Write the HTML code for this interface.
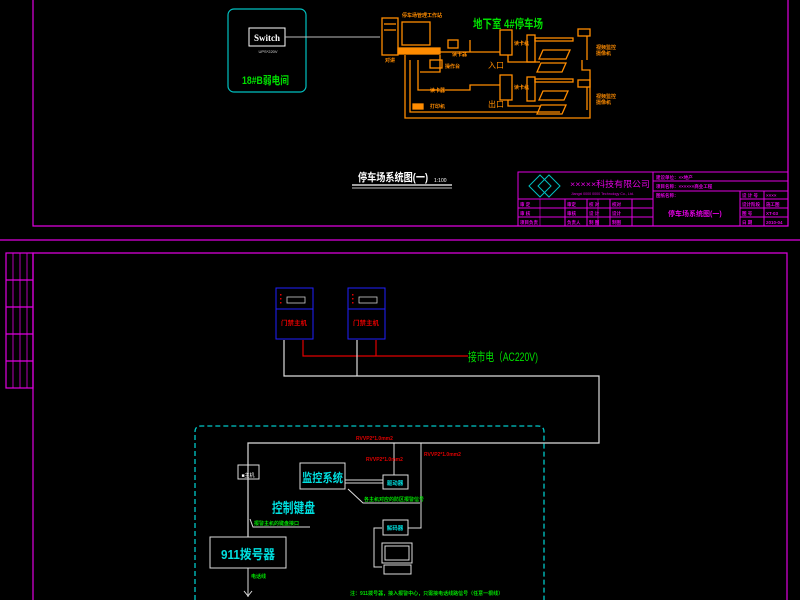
<!DOCTYPE html>
<html><head><meta charset="utf-8"><style>
html,body{margin:0;padding:0;background:#000;}
svg{display:block;font-family:"Liberation Sans","Noto Sans CJK SC",sans-serif;}
</style></head><body>
<svg width="800" height="600" viewBox="0 0 800 600" xmlns="http://www.w3.org/2000/svg">
<rect width="800" height="600" fill="#000"/>
<g stroke="#e000e0" fill="none" stroke-width="1.2">
<polyline points="33,0 33,226 788,226 788,0"/>
<line x1="0" y1="240" x2="800" y2="240"/>
<polyline points="33,600 33,253 787,253 787,600"/>
<rect x="6" y="253" width="27" height="135"/>
<line x1="6" y1="280" x2="33" y2="280"/><line x1="6" y1="307" x2="33" y2="307"/>
<line x1="6" y1="334" x2="33" y2="334"/><line x1="6" y1="361" x2="33" y2="361"/>
<line x1="13" y1="253" x2="13" y2="388" stroke-width="0.8"/><line x1="20" y1="253" x2="20" y2="388" stroke-width="0.8"/><line x1="27" y1="253" x2="27" y2="388" stroke-width="0.8"/>
</g>
<rect x="228" y="9" width="78" height="83" rx="6" fill="none" stroke="#00c0c0" stroke-width="1.2"/>
<rect x="249" y="28" width="36" height="18" fill="none" stroke="#fff" stroke-width="1"/>
<text x="267" y="41" fill="#fff" font-size="9" text-anchor="middle" font-family="Liberation Serif,serif" font-weight="bold">Switch</text>
<text x="268" y="53" fill="#ddd" font-size="4" text-anchor="middle">UPS*220V</text>
<text x="242" y="84" fill="#00e000" font-size="11" font-weight="bold" textLength="47" lengthAdjust="spacingAndGlyphs">18#B弱电间</text>
<line x1="285" y1="37" x2="380" y2="37" stroke="#bbb" stroke-width="1"/>
<g stroke="#ff8c00" fill="none" stroke-width="1.3">
<rect x="382" y="18" width="16" height="37"/>
<line x1="384" y1="24" x2="396" y2="24"/><line x1="384" y1="30" x2="396" y2="30"/>
<rect x="402" y="22" width="28" height="23"/>
<rect x="398" y="48" width="42" height="6" fill="#ff8c00"/>
<polyline points="405,55 405,118 590,118 590,70 582,70 582,60"/>
<polyline points="410,60 410,112 560,112"/>
<polyline points="418,60 418,90 470,90 470,85 500,85"/>
<polyline points="440,55 440,72 420,72"/>
<line x1="440" y1="52" x2="500" y2="52"/>
<line x1="470" y1="52" x2="470" y2="40"/>
<rect x="500" y="30" width="12" height="25"/><rect x="500" y="75" width="12" height="25"/>
<polyline points="508,55 508,62 540,62"/><polyline points="508,100 508,106 540,106"/>
<rect x="527" y="35" width="8" height="27"/><rect x="527" y="77" width="8" height="24"/>
<rect x="535" y="38" width="38" height="3"/><rect x="535" y="79" width="38" height="3"/>
<polygon points="543,50 570,50 566,59 539,59"/><polygon points="541,63 566,63 562,72 537,72"/>
<polygon points="543,91 568,91 564,100 539,100"/><polygon points="541,105 566,105 562,114 537,114"/>
<rect x="578" y="29" width="12" height="7"/><line x1="587" y1="36" x2="587" y2="60"/>
<rect x="578" y="80" width="12" height="7"/><line x1="587" y1="87" x2="587" y2="110"/>
<rect x="413" y="104" width="10" height="5" fill="#ff8c00"/>
<rect x="430" y="60" width="12" height="8"/>
<rect x="448" y="40" width="10" height="8"/>
</g>
<g fill="#ff8c00" font-size="5" font-weight="bold">
<text x="402" y="17">停车场管理工作站</text>
<text x="445" y="68">操作台</text>
<text x="452" y="56">读卡器</text>
<text x="430" y="92">读卡器</text>
<text x="430" y="108">打印机</text>
<text x="596" y="49">视频监控</text><text x="596" y="55">摄像机</text>
<text x="596" y="98">视频监控</text><text x="596" y="104">摄像机</text>
<text x="514" y="45">读卡机</text><text x="514" y="89">读卡机</text>
<text x="385" y="62">对讲</text>
</g>
<text x="488" y="68" fill="#ff8c00" font-size="8">入口</text>
<text x="488" y="107" fill="#ff8c00" font-size="8">出口</text>
<text x="473" y="28" fill="#00e000" font-size="12" font-weight="bold" textLength="70" lengthAdjust="spacingAndGlyphs">地下室 4#停车场</text>
<text x="358" y="181" fill="#fff" font-size="11" font-weight="bold" textLength="70" lengthAdjust="spacingAndGlyphs">停车场系统图(一)</text>
<text x="434" y="182" fill="#fff" font-size="5">1:100</text>
<line x1="352" y1="185" x2="452" y2="185" stroke="#fff" stroke-width="1.2"/>
<line x1="352" y1="188" x2="452" y2="188" stroke="#fff" stroke-width="0.7"/>
<g stroke="#e000e0" fill="none" stroke-width="1">
<rect x="518" y="172" width="270" height="54"/>
<line x1="653" y1="172" x2="653" y2="226"/>
<line x1="518" y1="199" x2="653" y2="199"/><line x1="518" y1="208" x2="653" y2="208"/><line x1="518" y1="217" x2="653" y2="217"/>
<line x1="565" y1="199" x2="565" y2="226"/><line x1="587" y1="199" x2="587" y2="226"/><line x1="610" y1="199" x2="610" y2="226"/><line x1="632" y1="199" x2="632" y2="226"/>
<line x1="540" y1="199" x2="540" y2="226" stroke-width="0.6"/><line x1="598" y1="199" x2="598" y2="226" stroke-width="0.6"/>
<line x1="653" y1="181" x2="788" y2="181"/><line x1="653" y1="191" x2="788" y2="191"/>
<line x1="740" y1="191" x2="740" y2="226"/><line x1="764" y1="191" x2="764" y2="226"/>
<line x1="740" y1="199" x2="788" y2="199"/><line x1="740" y1="208" x2="788" y2="208"/><line x1="740" y1="217" x2="788" y2="217"/>
</g>
<g stroke="#00c0c0" fill="none" stroke-width="1"><polygon points="540,175 551,186 540,197 529,186"/><polygon points="549,175 560,186 549,197 538,186"/></g>
<text x="570" y="187" fill="#e000e0" font-size="8.5" textLength="80" lengthAdjust="spacingAndGlyphs">×××××科技有限公司</text>
<text x="571" y="195" fill="#e000e0" font-size="3.6">Jiangxi 0000 0000 Technology Co., Ltd.</text>
<g fill="#e000e0" font-size="4.5" font-weight="bold">
<text x="656" y="179">建设单位：××地产</text><text x="656" y="188">项目名称：××××××商业工程</text><text x="656" y="197">图纸名称：</text>
<text x="520" y="206">审 定</text><text x="567" y="206">审定</text><text x="589" y="206">校 对</text><text x="612" y="206">校对</text>
<text x="520" y="215">审 核</text><text x="567" y="215">审核</text><text x="589" y="215">设 计</text><text x="612" y="215">设计</text>
<text x="520" y="224">项目负责</text><text x="567" y="224">负责人</text><text x="589" y="224">制 图</text><text x="612" y="224">制图</text>
<text x="742" y="197">设 计 号</text><text x="742" y="206">设计阶段</text><text x="742" y="215">图 号</text><text x="742" y="224">日 期</text>
<text x="766" y="197">××××</text><text x="766" y="206">施工图</text><text x="766" y="215">XT-03</text><text x="766" y="224">2010-04</text>
</g>
<text x="668" y="216" fill="#e000e0" font-size="7" font-weight="bold">停车场系统图(一)</text>
<g stroke="#2020ff" fill="none" stroke-width="1">
<rect x="276" y="288" width="37" height="51"/><line x1="276" y1="309" x2="313" y2="309"/>
<rect x="348" y="288" width="37" height="51"/><line x1="348" y1="309" x2="385" y2="309"/>
</g>
<g stroke="#ccc" fill="none" stroke-width="0.8"><rect x="287" y="297" width="18" height="6"/><rect x="359" y="297" width="18" height="6"/></g>
<g fill="#e00000"><rect x="280" y="294" width="1.5" height="1.5"/><rect x="280" y="298" width="1.5" height="1.5"/><rect x="280" y="302" width="1.5" height="1.5"/><rect x="352" y="294" width="1.5" height="1.5"/><rect x="352" y="298" width="1.5" height="1.5"/><rect x="352" y="302" width="1.5" height="1.5"/></g>
<text x="294" y="325" fill="#e00000" font-size="6.5" text-anchor="middle" font-weight="bold">门禁主机</text>
<text x="366" y="325" fill="#e00000" font-size="6.5" text-anchor="middle" font-weight="bold">门禁主机</text>
<g stroke="#e00000" fill="none" stroke-width="1.2"><polyline points="303,340 303,356 468,356"/><line x1="376" y1="340" x2="376" y2="356"/></g>
<g stroke="#ddd" fill="none" stroke-width="1.2"><polyline points="284,340 284,376 599,376 599,443 248,443 248,537"/><line x1="357" y1="340" x2="357" y2="376"/></g>
<text x="468" y="361" fill="#00e000" font-size="12" textLength="70" lengthAdjust="spacingAndGlyphs">接市电（AC220V)</text>
<path d="M195,600 V432 Q195,426 201,426 H538 Q544,426 544,432 V600" fill="none" stroke="#00c8c8" stroke-width="1.3" stroke-dasharray="5,3"/>
<g stroke="#ddd" fill="none" stroke-width="1">
<rect x="238" y="465" width="21" height="14"/>
<rect x="300" y="463" width="45" height="26"/>
<rect x="383" y="475" width="25" height="14"/>
<line x1="345" y1="480" x2="383" y2="480"/><line x1="345" y1="483" x2="383" y2="483"/>
<line x1="394" y1="443" x2="394" y2="475"/>
<polyline points="421,443 421,528 408,528"/>
<rect x="383" y="520" width="25" height="15"/>
<polyline points="382,528 374,528 374,567 382,567"/>
<rect x="382" y="543" width="30" height="20"/><rect x="385" y="546" width="24" height="14"/>
<rect x="384" y="565" width="27" height="9"/>
<rect x="210" y="537" width="76" height="31"/>
<line x1="248" y1="568" x2="248" y2="597"/>
<polyline points="244,591 248,596 252,591"/>
<polyline points="348,489 363,503 420,503"/>
<polyline points="250,519 253,527 310,527"/>
</g>
<g fill="#e00000" font-size="5" font-weight="bold"><text x="356" y="440">RVVP2*1.0mm2</text><text x="366" y="461">RVVP2*1.0mm2</text><text x="424" y="456">RVVP2*1.0mm2</text></g>
<text x="302" y="482" fill="#00e0e0" font-size="12" font-weight="bold" textLength="41" lengthAdjust="spacingAndGlyphs">监控系统</text>
<text x="395" y="485" fill="#00e0e0" font-size="5.5" text-anchor="middle" font-weight="bold">驱动器</text>
<text x="395" y="530" fill="#00e0e0" font-size="5.5" text-anchor="middle" font-weight="bold">解码器</text>
<text x="248" y="477" fill="#fff" font-size="5" text-anchor="middle">■主机</text>
<text x="272" y="513" fill="#00e0e0" font-size="14" font-weight="bold" textLength="43" lengthAdjust="spacingAndGlyphs">控制键盘</text>
<text x="221" y="559" fill="#00e0e0" font-size="13" font-weight="bold" textLength="54" lengthAdjust="spacingAndGlyphs">911拨号器</text>
<g fill="#00e000" font-size="5" font-weight="bold"><text x="364" y="501">各主机对应的防区报警信号</text><text x="254" y="525">报警主机的键盘接口</text><text x="251" y="578">电话线</text><text x="350" y="595">注：911拨号器，接入报警中心，只需接电话线路信号（任意一根线）</text></g>
</svg>
</body></html>
